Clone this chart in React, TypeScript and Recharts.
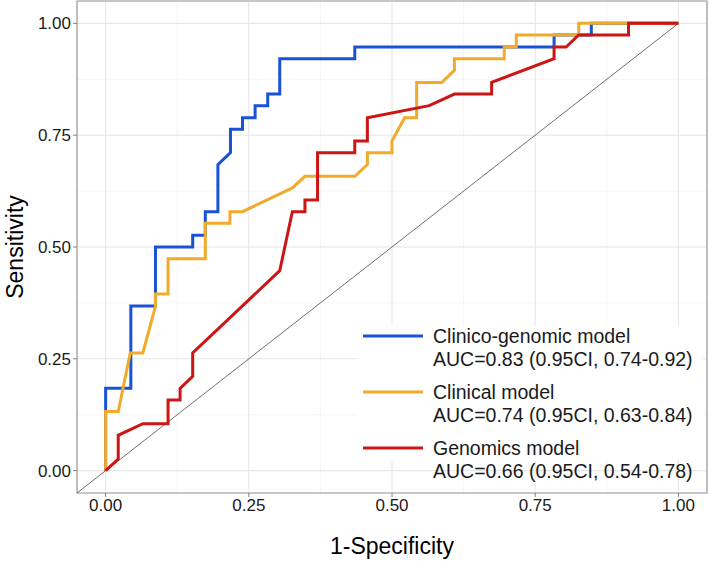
import React from 'react';
import { LineChart, Line, XAxis, YAxis, CartesianGrid, ReferenceArea, Legend } from 'recharts';

// ROC curves: 1-specificity (x) against sensitivity (y)
const cgFpr = [0, 0, 0.044, 0.044, 0.087, 0.087, 0.152, 0.152, 0.174, 0.174, 0.196, 0.196, 0.218, 0.218, 0.239, 0.239, 0.261, 0.261, 0.283, 0.283, 0.304, 0.304, 0.435, 0.435, 0.783, 0.783, 0.848, 0.848, 1];
const cgTpr = [0, 0.184, 0.184, 0.368, 0.368, 0.5, 0.5, 0.526, 0.526, 0.579, 0.579, 0.684, 0.711, 0.763, 0.763, 0.789, 0.789, 0.816, 0.816, 0.842, 0.842, 0.921, 0.921, 0.947, 0.947, 0.974, 0.974, 1, 1];

const clFpr = [0, 0, 0.022, 0.043, 0.065, 0.087, 0.087, 0.109, 0.109, 0.174, 0.174, 0.217, 0.217, 0.239, 0.326, 0.348, 0.435, 0.457, 0.457, 0.5, 0.5, 0.522, 0.543, 0.543, 0.587, 0.609, 0.609, 0.696, 0.696, 0.717, 0.717, 0.826, 0.826, 1];
const clTpr = [0, 0.132, 0.132, 0.263, 0.263, 0.368, 0.395, 0.395, 0.474, 0.474, 0.553, 0.553, 0.579, 0.579, 0.632, 0.658, 0.658, 0.684, 0.711, 0.711, 0.737, 0.789, 0.789, 0.868, 0.868, 0.895, 0.921, 0.921, 0.947, 0.947, 0.974, 0.974, 1, 1];

const gnFpr = [0, 0.022, 0.022, 0.065, 0.109, 0.109, 0.13, 0.13, 0.152, 0.152, 0.304, 0.326, 0.348, 0.348, 0.37, 0.37, 0.435, 0.435, 0.457, 0.457, 0.565, 0.609, 0.674, 0.674, 0.783, 0.783, 0.804, 0.826, 0.913, 0.913, 1];
const gnTpr = [0, 0.026, 0.079, 0.105, 0.105, 0.158, 0.158, 0.184, 0.211, 0.263, 0.447, 0.579, 0.579, 0.605, 0.605, 0.711, 0.711, 0.737, 0.737, 0.789, 0.816, 0.842, 0.842, 0.868, 0.921, 0.947, 0.947, 0.974, 0.974, 1, 1];

// chance line, drawn from the lower-left panel corner up to (1, 1)
const diagX = [-0.05, 1];
const diagY = [-0.05, 1];

const majorTicks = [0, 0.25, 0.5, 0.75, 1];
const minorTicks = [0.125, 0.375, 0.625, 0.875];
const DOMAIN = [-0.05, 1.05];

const seriesNames = ['Clinico-genomic model', 'Clinical model', 'Genomics model'];
const aucLabels = [
  'AUC=0.83 (0.95CI, 0.74-0.92)',
  'AUC=0.74 (0.95CI, 0.63-0.84)',
  'AUC=0.66 (0.95CI, 0.54-0.78)',
];
const colors = ['#1a52d6', '#f2aa2b', '#cc1515'];

const zip = (xs: number[], ys: number[]) => xs.map((x, i) => ({ x, y: ys[i] }));

const curves = [zip(cgFpr, cgTpr), zip(clFpr, clTpr), zip(gnFpr, gnTpr)];
const diag = zip(diagX, diagY);

const FONT = '"Liberation Sans", Arial, Helvetica, sans-serif';
const fmt = (v: number) => v.toFixed(2);

const renderLegend = () => (
  <svg width={345} height={170} style={{ display: 'block' }}>
    <rect x={0} y={8} width={345} height={134} fill="#ffffff" />
    {seriesNames.map((name, i) => {
      const cy = 18 + i * 56;
      return (
        <g key={name}>
          <line x1={5} x2={65} y1={cy} y2={cy} stroke={colors[i]} strokeWidth={3} />
          <text x={75} y={cy} dominantBaseline="central" fontSize={19.5} fill="#1a1a1a" fontFamily={FONT}>
            {name}
          </text>
          <text x={75} y={cy + 23} dominantBaseline="central" fontSize={19.5} fill="#1a1a1a" fontFamily={FONT}>
            {aucLabels[i]}
          </text>
        </g>
      );
    })}
  </svg>
);

const YTitle = (props: any) => {
  const vb = props.viewBox || {};
  const cy = vb.height ? vb.y + vb.height / 2 : 247;
  return (
    <text x={15} y={cy} transform={`rotate(-90, 15, ${cy})`} textAnchor="middle" dominantBaseline="central"
      fontSize={23} fill="#000" fontFamily={FONT}>
      Sensitivity
    </text>
  );
};

const XTitle = (props: any) => {
  const vb = props.viewBox || {};
  const cx = vb.width ? vb.x + vb.width / 2 : 392;
  return (
    <text x={cx} y={546} textAnchor="middle" dominantBaseline="central" fontSize={23} fill="#000" fontFamily={FONT}>
      1-Specificity
    </text>
  );
};

export default function App() {
  return (
    <div style={{ position: 'absolute', left: 0, top: 0, width: 709, height: 562, background: '#fff' }}>
      <LineChart width={709} height={562} margin={{ top: 1, right: 2, bottom: 0, left: 0 }} style={{ fontFamily: FONT }}>
        <CartesianGrid xAxisId="minor" yAxisId="minor" stroke="#f2f2f2" strokeWidth={0.8} />
        <CartesianGrid stroke="#e6e6e6" strokeWidth={1.1} />
        <XAxis
          dataKey="x"
          type="number"
          domain={DOMAIN}
          ticks={majorTicks}
          tickFormatter={fmt}
          allowDataOverflow
          height={69}
          tickSize={4}
          tickMargin={2}
          axisLine={false}
          tickLine={{ stroke: '#808080' }}
          tick={{ fill: '#1a1a1a', fontSize: 17 }}
          label={XTitle}
        />
        <YAxis
          type="number"
          domain={DOMAIN}
          ticks={majorTicks}
          tickFormatter={fmt}
          allowDataOverflow
          width={77}
          tickSize={4}
          tickMargin={2}
          axisLine={false}
          tickLine={{ stroke: '#808080' }}
          tick={{ fill: '#1a1a1a', fontSize: 17 }}
          label={YTitle}
        />
        <XAxis xAxisId="minor" dataKey="x" type="number" domain={DOMAIN} ticks={minorTicks} allowDataOverflow hide />
        <YAxis yAxisId="minor" type="number" domain={DOMAIN} ticks={minorTicks} allowDataOverflow hide />
        <ReferenceArea x1={-0.05} x2={1.05} y1={-0.05} y2={1.05} fill="none" stroke="#9e9e9e" strokeWidth={1.2} />
        <Line data={diag} dataKey="y" type="linear" stroke="#6e6e6e" strokeWidth={1} dot={false} activeDot={false} isAnimationActive={false} legendType="none" />
        {curves.map((c, i) => (
          <Line
            key={seriesNames[i]}
            name={seriesNames[i]}
            data={c}
            dataKey="y"
            type="linear"
            stroke={colors[i]}
            strokeWidth={3}
            dot={false}
            activeDot={false}
            isAnimationActive={false}
          />
        ))}
        <Legend
          layout="horizontal"
          verticalAlign="middle"
          align="center"
          content={renderLegend}
          wrapperStyle={{ position: 'absolute', left: 358, top: 318, width: 345, height: 170 }}
        />
      </LineChart>
    </div>
  );
}
